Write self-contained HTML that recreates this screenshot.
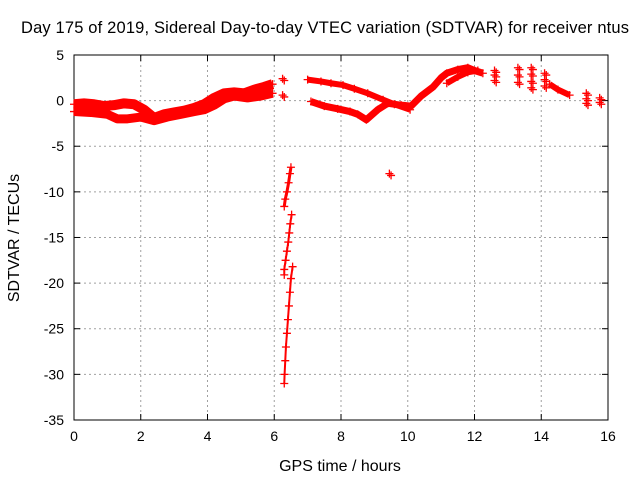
<!DOCTYPE html>
<html><head><meta charset="utf-8"><style>
body{margin:0;background:#fff}
svg{display:block;font-family:"Liberation Sans",sans-serif;font-size:14px}
</style></head><body>
<svg id="chart" width="640" height="480">
<text x="325" y="33" text-anchor="middle" font-size="16.5" textLength="608">Day 175 of 2019, Sidereal Day-to-day VTEC variation (SDTVAR) for receiver ntus</text>
<text x="340" y="471" text-anchor="middle" font-size="16">GPS time / hours</text>
<text transform="translate(19,238) rotate(-90)" text-anchor="middle" font-size="16">SDTVAR / TECUs</text>
<g id="grid"></g><g id="axes"></g><g id="marks"></g>
</svg>
<script>
const xTicks=[0,2,4,6,8,10,12,14,16];
const yTicks=[5,0,-5,-10,-15,-20,-25,-30,-35];
const bandUpperLeft=[[0,-0.4],[0.3,-0.3],[0.6,-0.4],[0.9,-0.6],[1.2,-0.5],[1.5,-0.3],[1.8,-0.4],[2.1,-1.0],[2.4,-1.9],[2.7,-1.5],[3.0,-1.3],[3.3,-1.1],[3.6,-0.8],[3.9,-0.4],[4.2,0.3],[4.5,0.8],[4.8,0.9],[5.1,0.8],[5.4,1.2],[5.7,1.5],[5.95,1.8]];
const bandLowerLeft=[[0,-1.2],[0.5,-1.3],[1.0,-1.5],[1.3,-2.0],[1.6,-2.0],[2.0,-1.8],[2.4,-2.2],[2.8,-1.8],[3.2,-1.5],[3.6,-1.2],[3.9,-1.0],[4.2,-0.5],[4.5,0.2],[4.8,0.5],[5.2,0.3],[5.6,0.5],[5.95,0.8]];
const bandUpperRight=[[7.0,2.3],[7.4,2.1],[7.7,1.9],[8.06,1.7],[8.4,1.3],[8.8,0.8],[9.26,0.1],[9.6,-0.4],[10.07,-1.0]];
const bandLowerRight=[[7.1,-0.1],[7.5,-0.6],[7.9,-0.9],[8.27,-1.2],[8.5,-1.5],[8.76,-2.1],[9.1,-1.0],[9.4,-0.3],[9.8,-0.5],[10.1,-0.6],[10.4,0.5],[10.76,1.5],[11.0,2.5],[11.17,3.0],[11.5,3.4],[11.8,3.6],[12.0,3.3],[12.25,3.0]];
const bandMidRight=[[11.17,1.9],[11.5,2.6],[11.8,3.1],[12.1,3.3]];
const bandTail=[[14.25,1.8],[14.5,1.2],[14.85,0.6]];
const clusters=[[12.6,3.3],[12.6,2.8],[12.6,2.2],[13.3,3.6],[13.3,2.8],[13.3,2.0],[13.7,3.6],[13.7,2.9],[13.7,2.1],[13.7,1.4],[14.1,3.0],[14.1,2.3],[14.1,1.6],[15.35,0.8],[15.35,0.2],[15.35,-0.3],[15.75,0.3],[15.75,-0.2],[6.25,2.4],[6.25,0.6],[9.45,-8.0]];
const spike1=[[6.5,-7.3],[6.47,-8.0],[6.43,-9.0],[6.38,-10.0],[6.33,-10.8],[6.3,-11.6]];
const spike2=[[6.52,-12.5],[6.48,-13.5],[6.45,-14.5],[6.42,-15.5],[6.38,-16.5],[6.34,-17.5],[6.3,-18.5],[6.3,-19.1]];
const spike3=[[6.55,-18.2],[6.5,-19.5],[6.47,-21.0],[6.44,-22.5],[6.41,-24.0],[6.38,-25.5],[6.35,-27.0],[6.33,-28.5],[6.31,-30.0],[6.3,-31.0]];
const X=t=>74+t*33.375, Y=v=>100.6-v*9.125;
const NS='http://www.w3.org/2000/svg';
function mk(tag,attrs,parent){const e=document.createElementNS(NS,tag);for(const k in attrs)e.setAttribute(k,attrs[k]);parent.appendChild(e);return e;}
const grid=document.getElementById('grid'),axes=document.getElementById('axes'),marks=document.getElementById('marks');
xTicks.forEach(t=>{
  if(t>0&&t<16){const g=mk('line',{x1:X(t),x2:X(t),y1:55,y2:420,stroke:'#a0a0a0','stroke-dasharray':'2,3'},grid);
  
  }
  mk('line',{x1:X(t),x2:X(t),y1:420,y2:414,stroke:'#000'},axes);
  mk('line',{x1:X(t),x2:X(t),y1:55,y2:61,stroke:'#000'},axes);
  const l=mk('text',{x:X(t),y:441,'text-anchor':'middle'},axes);l.textContent=t;
  
  
});
yTicks.forEach(v=>{
  if(v<5&&v>-35){const g=mk('line',{x1:74,x2:608,y1:Y(v),y2:Y(v),stroke:'#a0a0a0','stroke-dasharray':'2,3'},grid);
  
  }
  mk('line',{x1:74,x2:80,y1:Y(v),y2:Y(v),stroke:'#000'},axes);
  mk('line',{x1:608,x2:602,y1:Y(v),y2:Y(v),stroke:'#000'},axes);
  const l=mk('text',{x:64,y:Y(v)+5,'text-anchor':'end'},axes);l.textContent=v;
  
  
});
const fr=mk('rect',{x:74,y:55,width:534,height:365,fill:'none',stroke:'#000'},axes);


function plus(t,v){const p=mk('path',{d:`M${X(t)-4},${Y(v)}h8M${X(t)},${Y(v)-4}v8`,stroke:'#f00','stroke-width':1.3},marks);
  
  }
function band(arr,w,name){
  const pl=mk('polyline',{points:arr.map(p=>X(p[0])+','+Y(p[1])).join(' '),fill:'none',stroke:'#f00','stroke-width':w,'stroke-linejoin':'round'},marks);
  
  
  arr.forEach(p=>plus(p[0],p[1]));
}
band(bandUpperLeft,10,'band-upper-left');
band(bandLowerLeft,9,'band-lower-left');
band(bandUpperRight,6,'band-upper-right');
band(bandLowerRight,7,'band-lower-right');
band(bandMidRight,6,'band-mid-right');
band(bandTail,6,'band-tail');
band(spike1,3,'spike-segment-1');
band(spike2,2,'spike-segment-2');
band(spike3,2,'spike-segment-3');
clusters.forEach(p=>{plus(p[0],p[1]);plus(p[0]+0.05,p[1]-0.2);});
</script>
</body></html>
